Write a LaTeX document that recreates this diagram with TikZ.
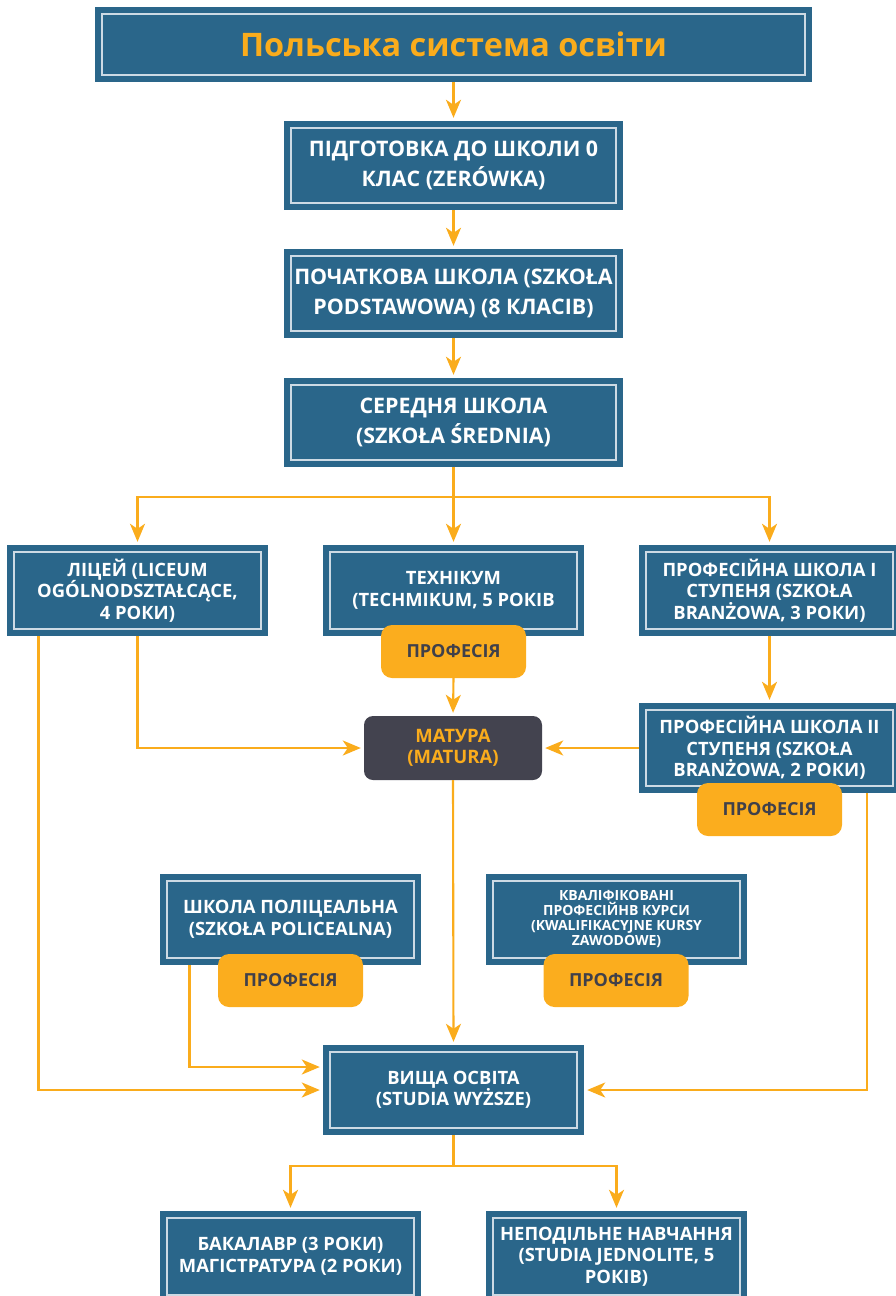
\documentclass[tikz,border=0pt]{standalone}
\usepackage{fontspec}
\setmainfont{Open Sans}
\usetikzlibrary{arrows.meta,calc}
\definecolor{boxblue}{RGB}{42,102,138}
\definecolor{lineorange}{RGB}{250,172,28}
\definecolor{proforange}{RGB}{251,173,30}
\definecolor{profgray}{RGB}{64,64,74}
\definecolor{maturagray}{RGB}{67,67,79}
\definecolor{innerline}{RGB}{205,218,228}
\tikzset{
  bluebox/.style={rectangle, fill=boxblue, inner sep=0pt, align=center,
    text=white, font=\bfseries\fontsize{18.4}{21.5}\selectfont,
    path picture={\draw[innerline, line width=1.1pt]
      ([shift={(7pt,-7pt)}]path picture bounding box.north west) rectangle
      ([shift={(-7pt,7pt)}]path picture bounding box.south east);}},
  bigfont/.style={font=\bfseries\fontsize{21.4}{30}\selectfont},
  smallfont/.style={font=\bfseries\fontsize{14}{15}\selectfont},
  profbox/.style={rectangle, rounded corners=11pt, fill=proforange, text=profgray,
    minimum width=145pt, minimum height=53pt, inner sep=0pt,
    font=\bfseries\fontsize{18}{20}\selectfont},
  maturabox/.style={rectangle, rounded corners=9pt, fill=maturagray, text=lineorange,
    minimum width=178pt, minimum height=64pt, inner sep=0pt, align=center,
    font=\bfseries\fontsize{18.5}{21}\selectfont},
  conn/.style={draw=lineorange, line width=2.1pt},
  arr/.style={conn, -{Stealth[length=18pt,width=15pt,inset=5pt]}, shorten >=3pt},
}
\begin{document}
\begin{tikzpicture}[x=1pt,y=-1pt]
\useasboundingbox (0,0) rectangle (896,1296);
\clip (0,0) rectangle (896,1296);
% title
\node[bluebox, minimum width=717pt, minimum height=75pt, text=lineorange,
  font=\bfseries\fontsize{32.4}{36}\selectfont] (title) at (453.5,44.5) {Польська система освіти};
% top column
\node[bluebox, bigfont, minimum width=339pt, minimum height=89pt] (b1) at (453.5,165.5)
  {ПІДГОТОВКА ДО ШКОЛИ 0\\КЛАС (ZERÓWKA)};
\node[bluebox, bigfont, minimum width=339pt, minimum height=89pt] (b2) at (453.5,293.5)
  {ПОЧАТКОВА ШКОЛА (SZKOŁA\\PODSTAWOWA) (8 КЛАСІВ)};
\node[bluebox, bigfont, minimum width=339pt, minimum height=89pt] (b3) at (453.5,422.5)
  {СЕРЕДНЯ ШКОЛА\\(SZKOŁA ŚREDNIA)};
% second row
\node[bluebox, minimum width=261pt, minimum height=91pt] (lic) at (137.5,590.5)
  {ЛІЦЕЙ (LICEUM\\OGÓLNODSZTAŁCĄCE,\\4 РОКИ)};
\node[bluebox, minimum width=261pt, minimum height=91pt] (tech) at (453.5,590.5)
  {ТЕХНІКУМ\\(TECHMIKUM, 5 РОКІВ};
\node[bluebox, minimum width=261pt, minimum height=91pt] (pr1) at (769.5,590.5)
  {ПРОФЕСІЙНА ШКОЛА І\\СТУПЕНЯ (SZKOŁA\\BRANŻOWA, 3 РОКИ)};
\node[profbox] (proftech) at (453.5,651.5) {ПРОФЕСІЯ};
% matura row
\node[maturabox] (matura) at (453,748) {МАТУРА\\(MATURA)};
\node[bluebox, minimum width=261pt, minimum height=90pt] (pr2) at (769.5,748)
  {ПРОФЕСІЙНА ШКОЛА ІІ\\СТУПЕНЯ (SZKOŁA\\BRANŻOWA, 2 РОКИ)};
\node[profbox] (profpr2) at (769.5,809.5) {ПРОФЕСІЯ};
% post-secondary
\node[bluebox, minimum width=261pt, minimum height=91pt] (pol) at (290.5,919.5)
  {ШКОЛА ПОЛІЦЕАЛЬНА\\(SZKOŁA POLICEALNA)};
\node[profbox] (profpol) at (290.5,980.5) {ПРОФЕСІЯ};
\node[bluebox, smallfont, minimum width=261pt, minimum height=91pt] (kw) at (616.5,919.5)
  {КВАЛІФІКОВАНІ\\ПРОФЕСІЙНВ КУРСИ\\(KWALIFIKACYJNE KURSY\\ZAWODOWE)};
\node[profbox] (profkw) at (616,980.5) {ПРОФЕСІЯ};
% higher education
\node[bluebox, minimum width=261pt, minimum height=90pt] (wy) at (453.5,1090)
  {ВИЩА ОСВІТА\\(STUDIA WYŻSZE)};
\node[bluebox, minimum width=261pt, minimum height=91pt] (bak) at (290.5,1256.5)
  {БАКАЛАВР (3 РОКИ)\\МАГІСТРАТУРА (2 РОКИ)};
\node[bluebox, minimum width=261pt, minimum height=91pt] (nie) at (616.5,1256.5)
  {НЕПОДІЛЬНЕ НАВЧАННЯ\\(STUDIA JEDNOLITE, 5\\РОКІВ)};
% connectors
\coordinate (split1) at (453.5,497);
\coordinate (split2) at (453.5,1166);
\draw[arr] (title.south) -- (b1.north);
\draw[arr] (b1.south) -- (b2.north);
\draw[arr] (b2.south) -- (b3.north);
\draw[conn] (b3.south) -- (split1);
\draw[arr] (split1) -| (lic.north);
\draw[arr] (split1) -- (tech.north);
\draw[arr] (split1) -| (pr1.north);
\draw[arr] (lic.south) |- (matura.west);
\draw[arr] ([xshift=-99pt]lic.south) |- (wy.west);
\draw[arr] (proftech.south) -- (matura.north);
\draw[arr] (pr1.south) -- (pr2.north);
\draw[arr] (pr2.west) -- (matura.east);
\draw[arr] ([xshift=97.5pt]pr2.south) |- (wy.east);
\draw[arr] (matura.south) -- (wy.north);
\draw[arr] ([xshift=-101pt]pol.south) |- ([yshift=23pt]wy.west);
\draw[conn] (wy.south) -- (split2);
\draw[arr] (split2) -| (bak.north);
\draw[arr] (split2) -| (nie.north);
\end{tikzpicture}
\end{document}
